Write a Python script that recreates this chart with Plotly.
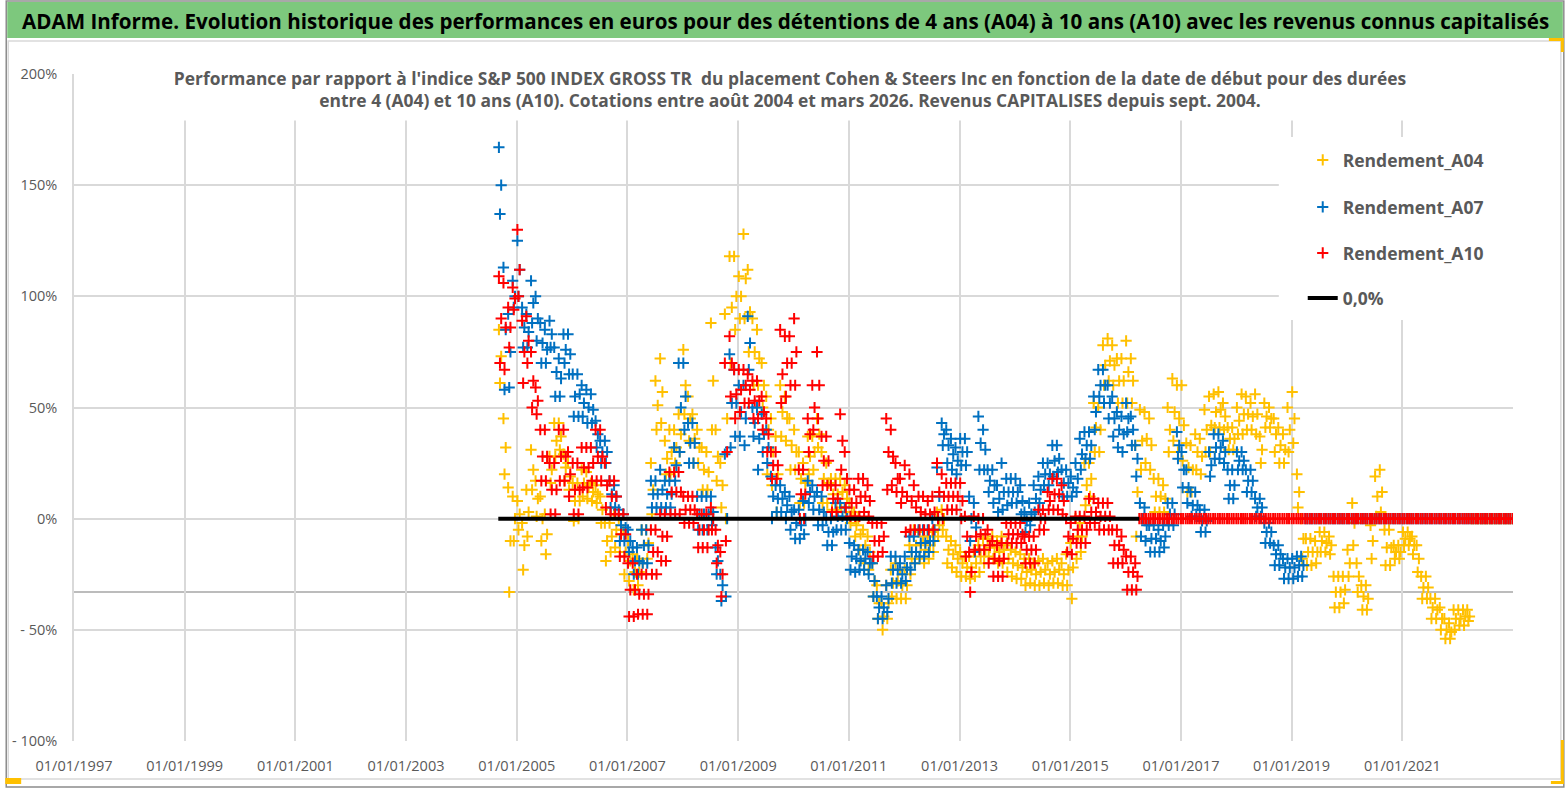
import pandas as pd
import plotly.graph_objects as go

# --- donnees : (haut, milieu, bas) du nuage pour chaque mois de debut ---
debut = "2004-09-01"
fin_axe = "2023-01-01"

a04 = [
    (85, 73, 61), (45, 32, 20), (14, -10, -33), (10, 0, -10),
    (8, 2, -5), (-2, -12, -23), (13, 3, -8), (31, 22, 13), (17, 9, 1), (10, 0, -10),
    (2, -7, -16), (28, 22, 16), (43, 35, 28), (43, 37, 31), (29, 23, 17), (25, 19, 13),
    (16, 8, -1), (16, 8, 0), (22, 16, 10), (21, 15, 9), (16, 12, 8), (15, 11, 7),
    (10, 4, -2), (-2, -10, -19), (-2, -8, -15), (2, -5, -13), (0, -7, -15), (-5, -15, -25),
    (-10, -19, -28), (-16, -24, -32), (-18, -24, -30), (-5, -12, -20), (-5, -11, -18), (25, 13, 2),
    (62, 51, 40), (72, 57, 43), (35, 27, 20), (40, 30, 20), (40, 32, 25), (47, 38, 30),
    (76, 60, 47), (55, 45, 35), (47, 36, 25), (40, 32, 25), (32, 22, 13), (30, 21, 13),
    (88, 62, 40), (40, 28, 17), (25, 15, 5), (92, 45, 0), (118, 95, 70), (118, 100, 85),
    (109, 100, 90), (128, 108, 90), (112, 93, 75), (90, 75, 60), (85, 72, 60), (70, 60, 50),
    (55, 40, 20), (45, 30, 15), (37, 20, 3), (60, 48, 37), (55, 45, 35), (45, 33, 22),
    (40, 30, 22), (30, 18, 7), (25, 16, 7), (37, 28, 20), (37, 30, 22), (45, 38, 32),
    (30, 18, 7), (25, 16, 7), (18, 11, 4), (18, 11, 4), (18, 12, 5), (15, 9, 3),
    (7, 3, -2), (3, -3, -8), (0, -7, -14), (-5, -12, -20), (-8, -15, -23), (-20, -28, -35),
    (-30, -38, -45), (-38, -44, -50), (-30, -38, -45), (-23, -29, -35), (-20, -28, -36), (-23, -30, -36),
    (-23, -30, -36), (-12, -18, -25), (-5, -12, -20), (-6, -12, -18), (-8, -14, -20), (-8, -12, -18),
    (-6, -10, -15), (3, -3, -8), (4, 0, -5), (-8, -14, -20), (-10, -16, -22), (-12, -18, -24),
    (-15, -20, -26), (-17, -22, -26), (-17, -22, -27), (-15, -20, -26), (-12, -17, -24), (-9, -14, -20),
    (-9, -13, -17), (-8, -13, -18), (-10, -15, -20), (-8, -14, -20), (-12, -18, -24), (-14, -20, -26),
    (-15, -21, -27), (-16, -22, -27), (-18, -24, -30), (-18, -23, -29), (-20, -25, -30), (-19, -24, -30),
    (-18, -23, -29), (-20, -25, -30), (-19, -24, -29), (-18, -23, -29), (-20, -25, -30), (-16, -23, -30),
    (-11, -22, -36), (0, -8, -18), (-2, -8, -15), (25, 15, 6), (25, 18, 10), (52, 41, 30),
    (50, 40, 30), (78, 69, 60), (81, 71, 62), (78, 69, 60), (72, 62, 52), (72, 62, 52),
    (80, 66, 52), (72, 62, 52), (33, 12, -8), (49, 35, 22), (48, 36, 25), (45, 33, 22),
    (18, 10, 3), (18, 10, 3), (15, 9, 3), (50, 40, 30), (63, 48, 35), (60, 45, 30),
    (60, 42, 26), (34, 23, 12), (33, 22, 12), (38, 30, 22), (36, 28, 20), (49, 40, 30),
    (55, 42, 30), (56, 48, 41), (57, 49, 41), (52, 46, 40), (41, 36, 31), (41, 36, 31),
    (50, 44, 38), (56, 47, 38), (55, 47, 40), (52, 46, 40), (56, 47, 38), (37, 31, 25),
    (52, 46, 41), (50, 45, 41), (45, 38, 30), (41, 33, 25), (38, 31, 25), (50, 40, 30),
    (57, 45, 34), (20, 12, 5), (0, -9, -18), (-9, -15, -21), (-9, -15, -21), (-10, -15, -20),
    (-6, -10, -15), (-6, -11, -15), (-8, -12, -16), (-26, -33, -40), (-26, -33, -40), (-26, -32, -38),
    (-14, -20, -26), (7, -2, -12), (-20, -26, -33), (-30, -35, -41), (-30, -36, -41), (-3, -10, -18),
    (19, 10, 1), (22, 12, 3), (-5, -13, -21), (-5, -13, -21), (-12, -15, -18), (-12, -15, -18),
    (-6, -9, -12), (-6, -9, -12), (-8, -12, -16), (-12, -18, -24), (-26, -31, -36), (-26, -31, -36),
    (-36, -40, -45), (-36, -41, -45), (-40, -45, -50), (-45, -50, -54), (-47, -51, -54), (-41, -45, -50),
    (-41, -45, -48), (-41, -44, -48), (-41, -44, -46),
]

a07 = [
    (167, 150, 137), (113, 85, 58), (92, 75, 59), (107, 100, 95),
    (125, 112, 100), (95, 86, 77), (92, 84, 77), (107, 97, 88), (100, 90, 80), (88, 79, 70),
    (85, 76, 70), (89, 83, 77), (77, 66, 55), (72, 63, 55), (83, 76, 70), (83, 74, 65),
    (65, 55, 46), (65, 56, 46), (60, 52, 46), (58, 50, 43), (56, 49, 43), (44, 38, 32),
    (35, 30, 25), (35, 30, 25), (17, 11, 5), (15, 10, 5), (4, -3, -10), (2, -4, -10),
    (-5, -10, -15), (-13, -19, -25), (-13, -19, -25), (-5, -12, -20), (-5, -12, -20), (17, 11, 5),
    (17, 11, 5), (22, 13, 5), (17, 11, 5), (17, 11, 5), (32, 24, 17), (70, 50, 30),
    (70, 55, 40), (43, 34, 25), (43, 34, 25), (10, 2, -5), (10, 2, -5), (10, 2, -5),
    (10, 3, -3), (-13, -19, -25), (-25, -30, -37), (29, 0, -35), (74, 52, 32), (67, 52, 37),
    (60, 48, 37), (60, 45, 33), (91, 79, 67), (50, 43, 37), (50, 36, 22), (47, 38, 30),
    (40, 32, 25), (19, 10, 0), (15, 9, 3), (15, 9, 3), (12, 6, 0), (10, 3, -5),
    (4, -2, -9), (4, -3, -9), (8, 0, -7), (17, 12, 7), (15, 10, 4), (12, 4, -3),
    (10, 3, -3), (0, -6, -12), (0, -6, -12), (7, 1, -5), (7, 1, -5), (5, 0, -5),
    (-11, -17, -23), (-12, -18, -24), (-14, -19, -23), (-14, -18, -23), (-15, -20, -25), (-20, -28, -35),
    (-35, -40, -45), (-35, -40, -45), (-30, -36, -42), (-17, -23, -29), (-17, -23, -29), (-20, -25, -29),
    (-17, -22, -28), (-8, -15, -23), (-8, -15, -20), (-5, -11, -17), (-5, -11, -17), (-5, -10, -15),
    (0, -5, -10), (23, 10, 0), (43, 38, 33), (40, 33, 25), (36, 29, 22), (32, 26, 20),
    (36, 30, 24), (36, 30, 24), (10, 0, -10), (7, -4, -15), (46, 34, 22), (40, 31, 22),
    (22, 17, 12), (22, 15, 7), (15, 9, 3), (25, 12, 4), (18, 12, 6), (18, 12, 7),
    (18, 12, 7), (15, 8, 2), (3, -1, -6), (7, 2, -3), (15, 9, 3), (19, 13, 7),
    (25, 20, 15), (25, 20, 15), (33, 26, 19), (33, 27, 21), (22, 16, 10), (22, 16, 10),
    (19, 14, 10), (25, 18, 12), (36, 29, 22), (39, 33, 27), (39, 33, 27), (55, 48, 40),
    (67, 60, 55), (67, 60, 52), (60, 52, 45), (55, 45, 37), (48, 40, 32), (46, 38, 30),
    (52, 45, 39), (46, 40, 33), (33, 27, 19), (7, 0, -8), (5, -3, -10), (-3, -9, -15),
    (-3, -9, -15), (-5, -10, -15), (-3, -8, -13), (7, 2, -3), (7, 2, -3), (39, 33, 27),
    (30, 22, 14), (22, 14, 7), (12, 6, 1), (12, 6, 1), (4, -1, -6), (4, -1, -6),
    (30, 24, 19), (38, 32, 27), (38, 32, 27), (35, 30, 25), (22, 15, 9), (22, 15, 9),
    (30, 26, 22), (30, 26, 22), (22, 17, 12), (22, 17, 12), (9, 5, 1), (9, 5, 1),
    (-2, -6, -11), (-2, -6, -11), (-12, -16, -21), (-12, -16, -21), (-18, -22, -27), (-18, -22, -27),
    (-18, -22, -27), (-17, -21, -26), (-17, -21, -26),
]

a10 = [
    (109, 90, 70), (106, 86, 67), (95, 86, 77), (104, 99, 94),
    (130, 112, 100), (89, 75, 61), (91, 80, 70), (75, 62, 50), (59, 53, 47), (40, 28, 17),
    (40, 28, 17), (25, 13, 2), (25, 13, 2), (40, 28, 17), (40, 28, 17), (30, 20, 10),
    (25, 13, 2), (25, 13, 2), (32, 23, 14), (32, 23, 14), (32, 25, 17), (40, 28, 17),
    (40, 28, 17), (25, 15, 5), (17, 10, 2), (17, 10, 2), (2, -7, -17), (2, -7, -17),
    (-20, -32, -44), (-20, -32, -44), (-25, -34, -43), (-25, -34, -43), (-25, -34, -43), (-5, -15, -25),
    (-5, -15, -25), (2, -8, -19), (2, -8, -19), (21, 12, 2), (21, 12, 2), (21, 12, 2),
    (10, 4, -2), (10, 4, -2), (10, 4, -2), (2, -5, -13), (2, -5, -13), (2, -5, -13),
    (5, 0, -5), (-5, -12, -20), (-15, -25, -35), (70, 30, -10), (82, 70, 55), (67, 56, 45),
    (67, 58, 48), (67, 60, 52), (65, 58, 52), (62, 53, 45), (62, 53, 45), (55, 48, 40),
    (45, 38, 30), (30, 24, 18), (30, 24, 18), (85, 65, 52), (82, 70, 55), (82, 70, 60),
    (90, 75, 60), (22, 11, 0), (22, 11, 0), (45, 38, 30), (60, 50, 40), (75, 60, 45),
    (37, 26, 15), (37, 26, 15), (15, 9, 3), (15, 9, 3), (47, 35, 22), (30, 18, 5),
    (13, 7, 1), (13, 7, 1), (18, 10, 1), (18, 10, 3), (15, 8, 1), (-2, -10, -17),
    (-2, -10, -17), (-2, -8, -15), (45, 30, 13), (40, 28, 15), (25, 18, 12), (18, 12, 7),
    (24, 10, -6), (20, 8, -5), (15, 5, -5), (10, 3, -5), (10, 2, -5), (8, 2, -5),
    (10, 3, -5), (25, 12, 0), (20, 10, 0), (16, 10, 4), (16, 10, 4), (16, 10, 4),
    (16, 8, 0), (1, -8, -17), (-15, -24, -33), (1, -8, -14), (0, -7, -14), (0, -7, -14),
    (-5, -12, -20), (-10, -18, -26), (-12, -19, -26), (-11, -18, -26), (-2, -7, -11), (-2, -7, -11),
    (-2, -7, -11), (-2, -7, -11), (-8, -14, -20), (-8, -14, -20), (-8, -14, -20), (4, 0, -5),
    (4, 0, -5), (12, 8, 4), (18, 11, 4), (18, 11, 4), (15, 8, 2), (0, -8, -15),
    (-2, -9, -16), (1, -5, -11), (1, -5, -11), (1, -5, -11), (9, 3, -2), (9, 3, -2),
    (7, 1, -5), (7, 1, -5), (7, 1, -5), (-5, -12, -20), (-5, -12, -20), (-8, -14, -20),
    (-17, -24, -32), (-17, -24, -32), (-20, -26, -32),
]

ligne_zero = [0.0, 0.0]
niveau_gris = -33

x_ticks = pd.date_range("1997-01-01", "2021-01-01", freq="2YS")
x_labels = [d.strftime("%d/%m/%Y") for d in x_ticks]
y_ticks = [-100, -50, 0, 50, 100, 150, 200]
y_labels = ["- 100%", "- 50%", "0%", "50%", "100%", "150%", "200%"]

titre = ("ADAM Informe. Evolution historique des performances en euros pour des détentions "
         "de 4 ans (A04) à 10 ans (A10) avec les revenus connus capitalisés")
sous_titre = ("Performance par rapport à l'indice S&P 500 INDEX GROSS TR  du placement Cohen & Steers Inc "
              "en fonction de la date de début pour des durées<br>entre 4 (A04) et 10 ans (A10). "
              "Cotations entre août 2004 et mars 2026. Revenus CAPITALISES depuis sept. 2004.")

POLICE = "Open Sans, sans-serif"
GRIS = "#595959"


def serie(valeurs):
    mois = pd.date_range(debut, periods=len(valeurs), freq="MS")
    fin = mois[-1] + pd.DateOffset(months=1)
    xs, ys = [], []
    for m, (h, c, b) in zip(mois, valeurs):
        xs += [m + pd.Timedelta(days=4), m + pd.Timedelta(days=11), m + pd.Timedelta(days=19)]
        ys += [h, b, c]
    # apres la derniere date de debut possible, le rendement vaut 0
    for d in pd.date_range(fin, fin_axe, freq="SMS"):
        xs.append(d)
        ys.append(0.0)
    return xs, ys, fin


# conversion pixels -> coordonnees papier
L, R, T, B = 69, 1513, 74, 741
def px(x):
    return (x - L) / (R - L)
def py(y):
    return (B - y) / (B - T)


fig = go.Figure()

couleurs = {"Rendement_A04": "#FFC000", "Rendement_A07": "#0070C0", "Rendement_A10": "#FF0000"}
donnees = {"Rendement_A04": a04, "Rendement_A07": a07, "Rendement_A10": a10}
rangs_legende = {"Rendement_A04": ("legend", 160), "Rendement_A07": ("legend2", 207),
                 "Rendement_A10": ("legend3", 253), "0,0%": ("legend4", 298)}

fin_a10 = None
for nom, vals in donnees.items():
    xs, ys, fin = serie(vals)
    if nom == "Rendement_A10":
        fin_a10 = fin
    fig.add_trace(go.Scatter(
        x=xs, y=ys, mode="markers", name=nom, legend=rangs_legende[nom][0],
        marker=dict(symbol="cross-thin", size=8, color=couleurs[nom],
                    line=dict(width=2, color=couleurs[nom]))
    ))

fig.add_trace(go.Scatter(
    x=[pd.Timestamp(debut), fin_a10], y=ligne_zero, mode="lines", name="0,0%",
    legend="legend4", line=dict(color="black", width=4)
))

formes = [
    dict(type="rect", xref="paper", yref="paper", x0=px(1), x1=px(1564), y0=py(787), y1=py(1),
         line=dict(color="#8c8c8c", width=1.5), fillcolor="rgba(0,0,0,0)", layer="below"),
    dict(type="rect", xref="paper", yref="paper", x0=px(2), x1=px(1563), y0=py(38), y1=py(2),
         line=dict(width=0), fillcolor="#7DC87D", layer="below"),
    dict(type="rect", xref="paper", yref="paper", x0=px(3), x1=px(1561), y0=py(779), y1=py(41),
         line=dict(color="#d9d9d9", width=1.5), fillcolor="rgba(0,0,0,0)", layer="below"),
    dict(type="line", xref="paper", yref="y", x0=0, x1=1, y0=niveau_gris, y1=niveau_gris,
         line=dict(color="#a6a6a6", width=1.5), layer="below"),
    # fond blanc de la legende
    dict(type="rect", xref="paper", yref="paper", x0=px(1278), x1=1, y0=py(320), y1=py(137),
         line=dict(width=0), fillcolor="white", layer="above"),
    # poignees de selection orange
    dict(type="rect", xref="paper", yref="paper", x0=px(0), x1=px(16), y0=py(784), y1=py(778),
         line=dict(width=0), fillcolor="#FFC000"),
    dict(type="rect", xref="paper", yref="paper", x0=px(1549), x1=px(1564), y0=py(41), y1=py(38),
         line=dict(width=0), fillcolor="#FFC000"),
    dict(type="rect", xref="paper", yref="paper", x0=px(1561), x1=px(1564), y0=py(52), y1=py(38),
         line=dict(width=0), fillcolor="#FFC000"),
    dict(type="rect", xref="paper", yref="paper", x0=px(1561), x1=px(1564), y0=py(784), y1=py(740),
         line=dict(width=0), fillcolor="#FFC000"),
    dict(type="rect", xref="paper", yref="paper", x0=px(1551), x1=px(1564), y0=py(784), y1=py(781),
         line=dict(width=0), fillcolor="#FFC000"),
]

legendes = {}
for nom, (cle, yrang) in rangs_legende.items():
    legendes[cle] = dict(x=px(1302), y=py(yrang), xanchor="left", yanchor="middle",
                         bgcolor="rgba(0,0,0,0)", borderwidth=0, itemwidth=30,
                         font=dict(size=17.5, color=GRIS, family=POLICE),
                         title=dict(text=""))

fig.update_layout(
    width=1567, height=790,
    margin=dict(l=L, r=1567 - R, t=T, b=790 - B),
    paper_bgcolor="white", plot_bgcolor="white",
    font=dict(family=POLICE, color=GRIS, size=14),
    shapes=formes,
    showlegend=True,
    annotations=[
        dict(text="<b>" + titre + "</b>", xref="paper", yref="paper", x=px(783), y=py(21),
             xanchor="center", yanchor="middle",
             showarrow=False, font=dict(size=20.6, color="black", family=POLICE)),
        dict(text="<b>" + sous_titre + "</b>", xref="paper", yref="paper", x=px(787), y=py(89),
             xanchor="center", yanchor="middle",
             showarrow=False, font=dict(size=17.4, color=GRIS, family=POLICE),
             bgcolor="white", width=1250, height=60, align="center"),
    ],
    **legendes,
)
for cle in legendes:
    fig.layout[cle].font.weight = "bold"

fig.update_xaxes(
    type="date", range=["1997-01-01", fin_axe],
    tickvals=x_ticks, ticktext=x_labels, tickfont=dict(size=14.5, color=GRIS),
    showgrid=True, gridcolor="#d9d9d9", gridwidth=1.5, zeroline=False, ticks="",
    ticklabelstandoff=14,
)
fig.update_yaxes(
    range=[-100, 200], tickvals=y_ticks, ticktext=y_labels, tickfont=dict(size=14.5, color=GRIS),
    showgrid=True, gridcolor="#d9d9d9", gridwidth=1.5, zeroline=False, ticks="",
    showline=True, linecolor="#d9d9d9", linewidth=1.5, ticklabelstandoff=12,
)

fig.write_html("out.html", config={"displayModeBar": False},
               post_script="document.body.style.margin='0';")
